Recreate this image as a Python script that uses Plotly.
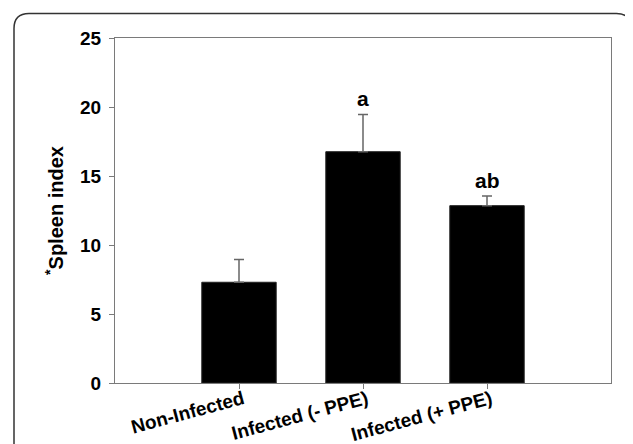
import plotly.graph_objects as go

categories = ["Non-Infected", "Infected (- PPE)", "Infected (+ PPE)"]
means = [7.3, 16.76, 12.85]
errors = [1.65, 2.7, 0.7]
letters = ["", "a", "ab"]
y_ticks = [0, 5, 10, 15, 20, 25]

# page body has an 8px margin; figure is sized/positioned to compensate
OFF = 8
W, H = 633 - OFF, 444 - OFF
L, R, T = 115 - OFF, 22, 38 - OFF
B = H - (383.3 - OFF)
pw, ph = W - L - R, H - T - B

def px_x(x):
    return (x - OFF - L) / pw

def px_y(y):
    return (H - B - (y - OFF)) / ph

FONT = "Arial, 'Liberation Sans', sans-serif"
xpos = [1, 2, 3]

fig = go.Figure()
fig.add_trace(go.Bar(
    x=xpos, y=means, width=0.6,
    marker=dict(color="black", line=dict(color="#222", width=1)),
    error_y=dict(type="data", array=errors, arrayminus=[0, 0, 0], symmetric=False,
                 color="#666", thickness=1.5, width=5),
    showlegend=False,
))

for x, m, e, lt in zip(xpos, means, errors, letters):
    if lt:
        fig.add_annotation(x=x, y=m + e, text=lt, showarrow=False, yanchor="bottom",
                           yshift=2, font=dict(family=FONT, size=21, color="black", weight="bold"))

# outer rounded border
x0, x1 = px_x(14), px_x(631.5)
y0, y1 = px_y(13.5), px_y(470)
rx, ry = 15 / pw, 15 / ph
path = (f"M {x0} {y1} L {x0} {y0 - ry} Q {x0} {y0} {x0 + rx} {y0} "
        f"L {x1 - rx} {y0} Q {x1} {y0} {x1} {y0 - ry} L {x1} {y1}")
fig.add_shape(type="path", path=path, xref="paper", yref="paper",
              line=dict(color="#333", width=1.5))

axis_common = dict(showline=True, linecolor="#7a7a7a", linewidth=1.3, mirror=True,
                   ticks="outside", tickcolor="#7a7a7a", ticklen=5, tickwidth=1.3,
                   showgrid=False, zeroline=False, automargin=False)

fig.update_layout(
    width=W, height=H,
    margin=dict(l=L, r=R, t=T, b=B, autoexpand=False),
    paper_bgcolor="white", plot_bgcolor="white",
    bargap=0.4,
    xaxis=dict(range=[0, 4], tickmode="array", tickvals=xpos, ticktext=categories,
               tickangle=-15, ticklabelstandoff=-8, ticklabelshift=4,
               tickfont=dict(family=FONT, size=19, color="black", weight="bold"),
               **axis_common),
    yaxis=dict(range=[0, 25], tickmode="array", tickvals=y_ticks,
               ticktext=[str(v) for v in y_ticks], ticklabelstandoff=4,
               tickfont=dict(family=FONT, size=19, color="black", weight="bold"),
               title=dict(text="<sup>*</sup>Spleen index", standoff=10,
                          font=dict(family=FONT, size=20, color="black", weight="bold")),
               **axis_common),
)

fig.write_html("out.html")
